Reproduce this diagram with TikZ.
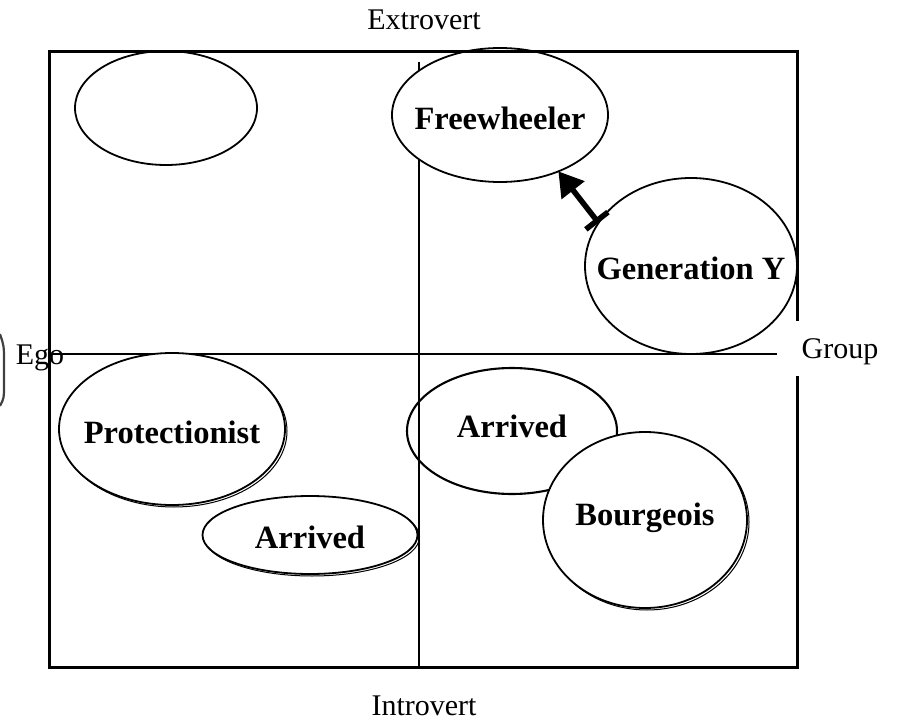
\documentclass[tikz,border=0pt]{standalone}
\usepackage{fontspec}
\setmainfont{Liberation Serif}
\usetikzlibrary{shapes.geometric,arrows.meta}
\begin{document}
\begin{tikzpicture}[x=1pt,y=-1pt,
  frame/.style={line width=3pt},
  vaxis/.style={line width=1.6pt},
  haxis/.style={line width=2.4pt},
  bubble/.style={ellipse,draw,line width=1.8pt,inner sep=0pt,outer sep=0pt},
  filled/.style={fill=white},
  shadowed/.style={preaction={draw,line width=1pt,
    transform canvas={xshift=2pt,yshift=-2pt}}},
  bubbletext/.style={font=\fontsize{32.5}{38}\selectfont\bfseries,inner sep=0pt},
  axislabel/.style={font=\fontsize{30}{36}\selectfont,inner sep=0pt},
  link/.style={line width=5.5pt,{Bar[width=28pt,line width=5.5pt]}-{Triangle[width=28pt,length=24pt]}}
]
\useasboundingbox (0,0) rectangle (899,727);

% axes
\coordinate (vtop) at (419,62);
\coordinate (vbot) at (419,667);
\draw[vaxis] (vtop) -- (vbot);
\coordinate (hleft) at (49,354);
\coordinate (hright) at (777,354);
\draw[haxis] (hleft) -- (hright);

% bubbles
\node[bubble,filled,minimum width=182pt,minimum height=114pt] (blank) at (166,108) {};
\node[bubble,filled,minimum width=216pt,minimum height=134pt] (free) at (500,115) {};
\node[bubble,filled,minimum width=212pt,minimum height=176pt] (geny) at (691,266) {};
\node[bubble,filled,shadowed,minimum width=226pt,minimum height=152pt] (prot) at (172,429) {};
\node[bubble,filled,shadowed,minimum width=215pt,minimum height=78pt] (arrA) at (310,535) {};
\node[bubble,line width=2.1pt,minimum width=210pt,minimum height=126pt] (arrB) at (512,431) {};
\node[bubble,filled,shadowed,minimum width=204pt,minimum height=176pt] (bourg) at (645,520) {};

% quadrant frame
\draw[frame] (49,52) rectangle (797,667);

% bubble labels
\node[bubbletext] (freeT) at (500,118) {Freewheeler};
\node[bubbletext] (genyT) at (691,268) {Generation Y};
\node[bubbletext] (protT) at (172,432) {Protectionist};
\node[bubbletext] (arrAT) at (310,537) {Arrived};
\node[bubbletext] (arrBT) at (512,426) {Arrived};
\node[bubbletext] (bourgT) at (645,518) {Bourgeois};

% link between Generation Y and Freewheeler
\draw[link] (geny.155) -- (free.-44);

% axis labels
\node[axislabel] (extro) at (424,20) {Extrovert};
\node[axislabel] (intro) at (424,706) {Introvert};
\node[axislabel,fill=white,minimum width=122pt,minimum height=55pt] (group) at (839,348) {};
\node[axislabel] (groupT) at (840,352) {Group};
\node[axislabel] (ego) at (40,358) {Ego};
\draw[line width=2.2pt,black!75] (0,334) .. controls (4,346) .. (4,362) -- (4,386) .. controls (4,398) .. (0,406);
\end{tikzpicture}
\end{document}
